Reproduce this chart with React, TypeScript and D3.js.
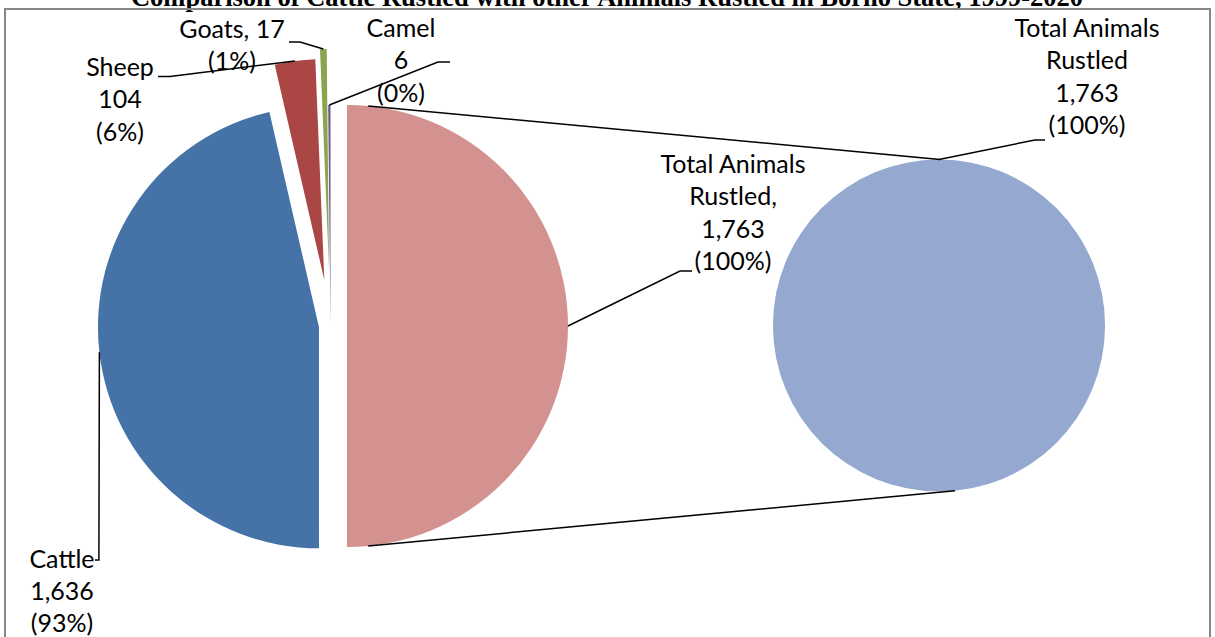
import React from "react";
import * as d3 from "d3";

// Animals rustled in Borno State, 1999-2020
const categories = ["Total Animals Rustled", "Cattle", "Sheep", "Goats", "Camel"];
const values = [1763, 1636, 104, 17, 6];
const secondaryCategories = ["Total Animals Rustled"];
const secondaryValues = [1763];

const TITLE = "Comparison of Cattle Rustled with other Animals Rustled in Borno State, 1999-2020";

const W = 1215;
const H = 637;
const FONT = "Lato, 'Open Sans', sans-serif";
const FS = 25;
const LH = 32.3;

// layout of the primary pie
const cx = 330.5;
const cy = 326;
const R = 221;
const explode = [16.5, 11.6, 46.4, 56, 0];
const colors = ["#D39190", "#4572A7", "#AA4643", "#89A54E", "#71588F"];

// secondary pie
const cx2 = 939;
const cy2 = 325.5;
const R2 = 166;
const colors2 = ["#95A9D0"];

const fmt = d3.format(",");

type LabelSpec = {
  x: number;
  y: number;
  lines: string[];
  leader: [number, number][];
};

export default function App() {
  const total = values[0];
  const pie = d3.pie<number>().sort(null).value((d) => d)(values);
  const arc = d3.arc<d3.PieArcDatum<number>>().innerRadius(0).outerRadius(R);

  const pie2 = d3.pie<number>().sort(null).value((d) => d)(secondaryValues);
  const arc2 = d3.arc<d3.PieArcDatum<number>>().innerRadius(0).outerRadius(R2);

  // offset of an exploded slice along its bisector
  const offset = (i: number): [number, number] => {
    const a = (pie[i].startAngle + pie[i].endAngle) / 2;
    return [explode[i] * Math.sin(a), -explode[i] * Math.cos(a)];
  };
  // mid point of a slice's outer edge
  const outerMid = (i: number): [number, number] => {
    const a = (pie[i].startAngle + pie[i].endAngle) / 2;
    const [ox, oy] = offset(i);
    return [cx + ox + R * Math.sin(a), cy + oy - R * Math.cos(a)];
  };
  const pct = (v: number) => `(${Math.round((v / total) * 100)}%)`;

  const [tx, ty] = outerMid(0);
  const [catX, catY] = outerMid(1);

  const labels: LabelSpec[] = [
    {
      x: 733,
      y: 173,
      lines: ["Total Animals", "Rustled,", fmt(values[0]), pct(values[0])],
      leader: [[tx, ty], [680, 271], [692, 271]],
    },
    {
      x: 62,
      y: 567.5,
      lines: [categories[1], fmt(values[1]), pct(values[1])],
      leader: [[catX, catY], [catX - 0.5, 560], [95, 560]],
    },
    {
      x: 120,
      y: 76,
      lines: [categories[2], fmt(values[2]), pct(values[2])],
      leader: [outerMid(2), [170, 76.5], [158, 76.5]],
    },
    {
      x: 232,
      y: 38,
      lines: [`${categories[3]}, ${fmt(values[3])}`, pct(values[3])],
      leader: [outerMid(3), [300, 42], [289, 42]],
    },
    {
      x: 401,
      y: 37,
      lines: [categories[4], fmt(values[4]), pct(values[4])],
      leader: [outerMid(4), [438, 62], [450, 62]],
    },
  ];

  const p2top: [number, number] = [cx2, cy2 - R2];
  const labels2: LabelSpec[] = [
    {
      x: 1087,
      y: 37,
      lines: ["Total Animals", "Rustled", fmt(secondaryValues[0]), `(${Math.round((secondaryValues[0] / total) * 100)}%)`],
      leader: [p2top, [1035, 140], [1045, 140]],
    },
  ];

  // series lines joining the split slice to the secondary pie
  const onRed = (deg: number): [number, number] => {
    const a = (deg * Math.PI) / 180;
    const [ox, oy] = offset(0);
    return [cx + ox + R * Math.sin(a), cy + oy - R * Math.cos(a)];
  };
  const onSecond = (deg: number): [number, number] => {
    const a = (deg * Math.PI) / 180;
    return [cx2 + R2 * Math.sin(a), cy2 - R2 * Math.cos(a)];
  };
  const seriesLines: [number, number][][] = [
    [onRed(5.5), onSecond(0.3)],
    [onRed(174.5), onSecond(174.5)],
  ];

  const line = d3.line();

  const renderLabel = (l: LabelSpec, k: string) => (
    <g key={k}>
      <path d={line(l.leader) || ""} fill="none" stroke="#000" strokeWidth={1.5} />
      <text x={l.x} y={l.y} textAnchor="middle" fontFamily={FONT} fontSize={FS} fill="#000">
        {l.lines.map((s, j) => (
          <tspan key={j} x={l.x} y={l.y + j * LH}>
            {s}
          </tspan>
        ))}
      </text>
    </g>
  );

  return (
    <svg
      width={W}
      height={H}
      viewBox={`0 0 ${W} ${H}`}
      style={{ position: "absolute", left: 0, top: 0, background: "#fff" }}
    >
      <rect x={0} y={0} width={W} height={H} fill="#fff" />
      <text
        x={607}
        y={6}
        textAnchor="middle"
        fontFamily="'Liberation Serif', 'Times New Roman', serif"
        fontWeight="bold"
        fontSize={26.5}
        fill="#000"
      >
        {TITLE}
      </text>
      <rect x={5} y={9} width={1205} height={700} fill="none" stroke="#878787" strokeWidth={2} />

      <g>
        {pie.map((d, i) => {
          const [ox, oy] = offset(i);
          return (
            <path
              key={categories[i]}
              d={arc(d) || ""}
              transform={`translate(${cx + ox},${cy + oy})`}
              fill={colors[i]}
            />
          );
        })}
      </g>
      <g transform={`translate(${cx2},${cy2})`}>
        {pie2.map((d, i) => (
          <path key={secondaryCategories[i]} d={arc2(d) || ""} fill={colors2[i]} />
        ))}
      </g>

      {seriesLines.map((s, i) => (
        <path key={`s${i}`} d={line(s) || ""} fill="none" stroke="#000" strokeWidth={1.5} />
      ))}

      {labels.map((l, i) => renderLabel(l, `l${i}`))}
      {labels2.map((l, i) => renderLabel(l, `m${i}`))}
    </svg>
  );
}
